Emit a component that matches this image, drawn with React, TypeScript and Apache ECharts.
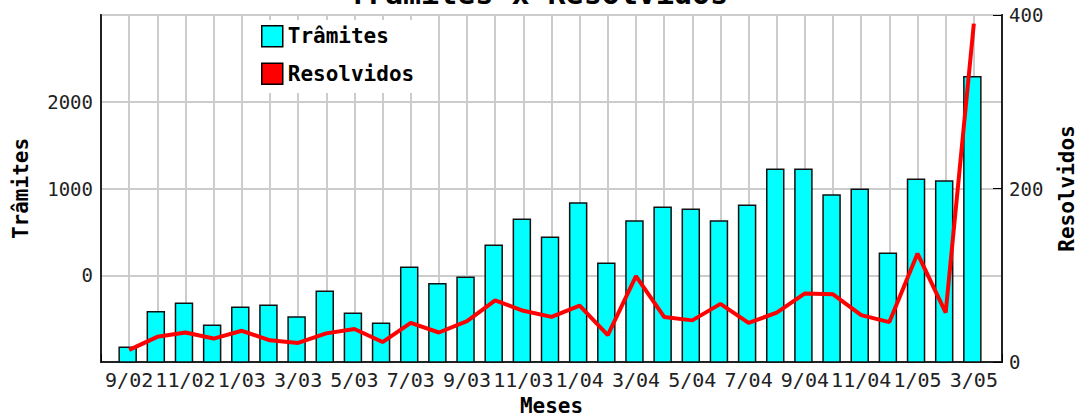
import React, { useEffect, useRef } from "react";
import * as echarts from "echarts";

const months = [
  "9/02", "10/02", "11/02", "12/02",
  "1/03", "2/03", "3/03", "4/03", "5/03", "6/03", "7/03", "8/03", "9/03", "10/03", "11/03", "12/03",
  "1/04", "2/04", "3/04", "4/04", "5/04", "6/04", "7/04", "8/04", "9/04", "10/04", "11/04", "12/04",
  "1/05", "2/05", "3/05",
];

// Trâmites, read against the left axis as labelled
const tramites = [
  -831, -420, -323, -577, -370, -347, -481, -185, -439, -554, 92, -97, -24, 345, 645, 437,
  833, 138, 625, 783, 760, 625, 806, 1221, 1221, 925, 991, 253, 1106, 1086, 2289,
];

// Resolvidos, right axis
const resolvidos = [
  14, 29, 34, 27, 36, 25, 22, 33, 38, 23, 45, 34, 47, 71, 59, 52,
  65, 31, 99, 52, 48, 67, 45, 57, 79, 78, 54, 46, 125, 57, 390,
];

const leftTicks = { min: -1000, max: 3000, interval: 1000 };
const rightTicks = { min: 0, max: 400, interval: 200 };

const FONT = "DejaVu Sans Mono";

export default function App() {
  const ref = useRef<HTMLDivElement>(null);
  useEffect(() => {
    if (!ref.current) return;
    const chart = echarts.init(ref.current, undefined, { renderer: "svg" });
    const n = months.length;
    const option: any = {
      animation: false,
      backgroundColor: "#ffffff",
      title: {
        text: "Trâmites x Resolvidos",
        left: "center",
        top: -27,
        textStyle: { fontFamily: FONT, fontWeight: "bold", fontSize: 30, color: "#000" },
      },
      legend: {
        orient: "vertical",
        left: 246,
        top: 20,
        padding: [5, 15, 8, 15],
        backgroundColor: "#ffffff",
        itemWidth: 21,
        itemHeight: 21,
        itemGap: 15,
        textStyle: { fontFamily: FONT, fontWeight: "bold", fontSize: 21, color: "#000", padding: [3, 0, 0, 0] },
        data: [
          { name: "Trâmites", icon: "rect", itemStyle: { color: "#00ffff", borderColor: "#000", borderWidth: 1.5 } },
          { name: "Resolvidos", icon: "rect", itemStyle: { color: "#ff0000", borderColor: "#000", borderWidth: 1.5 } },
        ],
      },
      grid: {
        left: 101,
        right: 75,
        top: 15,
        bottom: 56,
        containLabel: false,
        outerBoundsMode: "none",
        show: true,
        borderColor: "#222",
        borderWidth: 2,
        backgroundColor: "#ffffff",
      },
      xAxis: {
        type: "value",
        min: 0,
        max: n + 1,
        interval: 1,
        name: "Meses",
        nameLocation: "middle",
        nameGap: 33,
        nameTextStyle: { fontFamily: FONT, fontWeight: "bold", fontSize: 21, color: "#000" },
        axisLine: { show: true, onZero: false, lineStyle: { color: "#222", width: 2 } },
        axisTick: { show: true, inside: true, length: 8, lineStyle: { color: "#000", width: 1 } },
        splitLine: { show: true, lineStyle: { color: "#cccccc", width: 2 } },
        axisLabel: {
          margin: 8,
          fontFamily: FONT,
          fontSize: 20,
          color: "#222",
          formatter: (v: number) => {
            const i = Math.round(v) - 1;
            return i >= 0 && i < n && i % 2 === 0 ? months[i] : "";
          },
        },
      },
      yAxis: [
        {
          type: "value",
          position: "left",
          min: leftTicks.min,
          max: leftTicks.max,
          interval: leftTicks.interval,
          name: "Trâmites",
          nameLocation: "middle",
          nameGap: 70,
          nameRotate: 90,
          nameTextStyle: { fontFamily: FONT, fontWeight: "bold", fontSize: 21, color: "#000" },
          axisLine: { show: true, onZero: false, lineStyle: { color: "#222", width: 2 } },
          axisTick: { show: false },
          splitLine: { show: true, lineStyle: { color: "#cccccc", width: 2 } },
          axisLabel: {
            margin: 8,
            fontFamily: FONT,
            fontSize: 19,
            color: "#222",
            showMinLabel: false,
            showMaxLabel: false,
            formatter: (v: number) => String(v),
          },
        },
        {
          type: "value",
          position: "right",
          min: rightTicks.min,
          max: rightTicks.max,
          interval: rightTicks.interval,
          name: "Resolvidos",
          nameLocation: "middle",
          nameGap: 54,
          nameRotate: 90,
          nameTextStyle: { fontFamily: FONT, fontWeight: "bold", fontSize: 21, color: "#000" },
          axisLine: { show: true, onZero: false, lineStyle: { color: "#222", width: 2 } },
          axisTick: { show: true, inside: true, length: 9, lineStyle: { color: "#000", width: 1 } },
          splitLine: { show: false },
          axisLabel: { margin: 7, fontFamily: FONT, fontSize: 19, color: "#222", formatter: (v: number) => String(v) },
        },
      ],
      series: [
        {
          name: "Trâmites",
          type: "custom",
          xAxisIndex: 0,
          yAxisIndex: 0,
          itemStyle: { color: "#00ffff" },
          encode: { x: 0, y: 1 },
          data: tramites.map((v, i) => [i + 1, v]),
          renderItem: (params: any, api: any) => {
            const x = api.value(0);
            const v = api.value(1);
            const top = api.coord([x, v]);
            const base = api.coord([x, leftTicks.min]);
            const w = 17;
            return {
              type: "rect",
              shape: { x: top[0] - w / 2 - 1.5, y: top[1], width: w, height: base[1] - top[1] },
              style: { fill: "#00ffff", stroke: "#111", lineWidth: 1.5 },
            };
          },
          z: 2,
        },
        {
          name: "Resolvidos",
          type: "line",
          xAxisIndex: 0,
          yAxisIndex: 1,
          symbol: "none",
          color: "#ff0000",
          lineStyle: { color: "#ff0000", width: 4 },
          data: resolvidos.map((v, i) => [i + 1, v]),
          z: 5,
        },
      ],
    };
    chart.setOption(option);
    return () => chart.dispose();
  }, []);
  return (
    <div
      ref={ref}
      style={{ position: "fixed", left: 0, top: 0, width: 1077, height: 418, background: "#fff" }}
    />
  );
}
